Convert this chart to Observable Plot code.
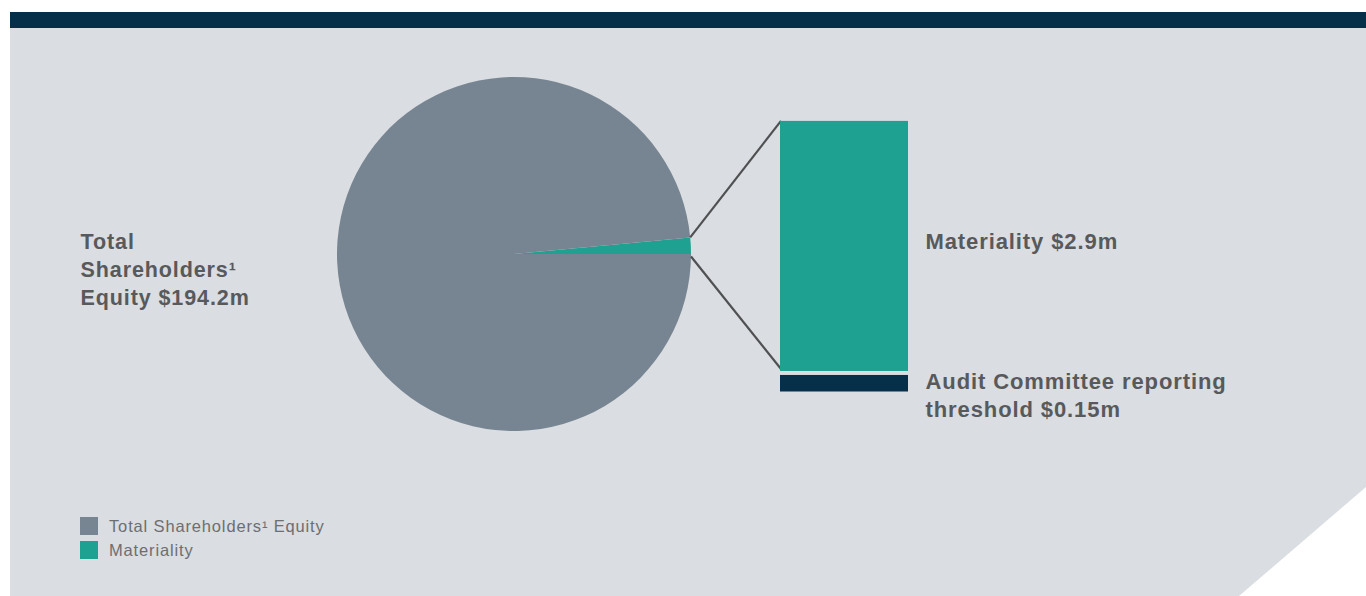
<!DOCTYPE html>
<html>
<head>
<meta charset="utf-8">
<script src="https://cdn.jsdelivr.net/npm/d3@7"></script>
<script src="https://cdn.jsdelivr.net/npm/@observablehq/plot@0.6"></script>
<style>
  html, body { margin: 0; padding: 0; background: #ffffff; }
  #wrap { position: relative; width: 1366px; height: 596px; overflow: hidden; font-family: "Liberation Sans", Arial, sans-serif; }
  #panel { position: absolute; left: 10px; top: 12px; width: 1356px; height: 584px; background: #dadde1;
           clip-path: polygon(0 0, 100% 0, 100% 475px, 1229px 100%, 0 100%); }
  #band { position: absolute; left: 10px; top: 12px; width: 1356px; height: 16px; background: #06304a; }
  #chart { position: absolute; left: 0; top: 0; }
  #chart svg { background: transparent; overflow: visible; }
  #chart g[aria-label="text"] text { letter-spacing: 0.9px; }
  #legend { position: absolute; left: 80px; top: 517px; color: #6d6e71; font-size: 16.5px; letter-spacing: 0.85px; }
  .item { display: flex; align-items: center; height: 18px; margin-bottom: 6px; white-space: nowrap; }
  .sw { width: 18px; height: 18px; margin-right: 11px; flex: none; }
</style>
</head>
<body>
<div id="wrap">
  <div id="panel"></div>
  <div id="band"></div>
  <div id="chart"></div>
  <div id="legend"></div>
</div>
<script>
// ---- data ----
const equityLabel = "Total Shareholders¹ Equity";
const equityValue = 194.2;          // $m
const materialityLabel = "Materiality";
const materialityValue = 2.9;       // $m
const auditLabel = "Audit Committee reporting threshold";
const auditValue = 0.15;            // $m

const pieNames = [materialityLabel, equityLabel];
const pieColors = ["#1ea190", "#778592"];

const barNames = [auditLabel, materialityLabel];
const barValues = [auditValue, materialityValue];
const barTexts = ["Audit Committee reporting\nthreshold $0.15m", "Materiality $2.9m"];
const barColors = ["#06304a", "#1ea190"];

const legendNames = [equityLabel, materialityLabel];
const legendColors = ["#778592", "#1ea190"];

const leftText = "Total\nShareholders¹\nEquity $194.2m";

// ---- derived tables ----
const pieData = [
  {name: pieNames[0], value: materialityValue, color: pieColors[0]},
  {name: pieNames[1], value: equityValue - materialityValue, color: pieColors[1]}
];
const GAP = 0.088; // visual gap between stacked bars (in $m units)
let acc = 0;
const bars = barNames.map((n, i) => {
  const y1 = acc + (i > 0 ? GAP : 0);
  const y2 = y1 + barValues[i];
  acc = y2;
  return {group: "Breakdown", name: n, y1, y2, mid: (y1 + y2) / 2, text: barTexts[i], color: barColors[i]};
});

// ---- layout constants ----
const CX = 514, CY = 254, R = 177;
const theta = 2 * Math.PI * materialityValue / equityValue;
const startAngle = Math.PI / 2 - theta;

function pieMark(index, scales, values, dimensions, context) {
  const g = d3.create("svg:g").attr("aria-label", "pie");
  const arcs = d3.pie().sort(null).value(d => d.value)
    .startAngle(startAngle).endAngle(startAngle + 2 * Math.PI)(pieData);
  const arc = d3.arc().innerRadius(0).outerRadius(R);
  g.append("g").attr("transform", `translate(${CX},${CY})`)
    .selectAll("path").data(arcs).join("path")
    .attr("d", arc).attr("fill", d => d.data.color);
  const pt = a => [CX + R * Math.sin(a), CY - R * Math.cos(a)];
  const m = arcs[0];
  const [ax, ay] = pt(m.startAngle);
  const [bx, by] = pt(m.endAngle);
  const barX = scales.x("Breakdown");
  const mb = bars[1];
  const lines = [
    [ax, ay, barX + 1, scales.y(mb.y2)],
    [bx, by + 2.5, barX + 1, scales.y(mb.y1) - 2]
  ];
  g.append("g").selectAll("line").data(lines).join("line")
    .attr("x1", d => d[0]).attr("y1", d => d[1]).attr("x2", d => d[2]).attr("y2", d => d[3])
    .attr("stroke", "#4f5052").attr("stroke-width", 2.2);
  return g.node();
}

const chart = Plot.plot({
  width: 1366,
  height: 596,
  marginTop: 0, marginRight: 0, marginBottom: 0, marginLeft: 0,
  x: {type: "band", domain: ["Breakdown"], range: [780, 908], padding: 0, axis: null},
  y: {type: "linear", domain: [0, 4.54], range: [391.5, 0], axis: null},
  color: {type: "identity"},
  style: {background: "transparent", fontFamily: "'Liberation Sans', Arial, sans-serif"},
  marks: [
    pieMark,
    Plot.barY(bars.slice(0, 1), {x: "group", y1: "y1", y2: "y2", fill: "color", insetTop: -3.6}),
    Plot.barY(bars.slice(1), {x: "group", y1: "y1", y2: "y2", fill: "color"}),
    Plot.text(bars.slice(1), {x: "group", y: "mid", text: "text", textAnchor: "start", dx: 81, dy: -4,
      fontSize: 22, fontWeight: "bold", fill: "#58595b", lineAnchor: "middle"}),
    Plot.text(bars.slice(0, 1), {x: "group", y: "mid", text: "text", textAnchor: "start", dx: 81, dy: 8.5,
      fontSize: 22, fontWeight: "bold", fill: "#58595b", lineAnchor: "middle", lineHeight: 28 / 22}),
    Plot.text([leftText], {frameAnchor: "top-left", dx: 80, dy: 268, text: d => d, textAnchor: "start",
      fontSize: 21.5, fontWeight: "bold", fill: "#58595b", lineAnchor: "middle", lineHeight: 28 / 21.5})
  ]
});
document.getElementById("chart").appendChild(chart);

const legend = d3.select("#legend");
const items = legend.selectAll("div.item").data(legendNames).join("div").attr("class", "item");
items.append("div").attr("class", "sw").style("background", (d, i) => legendColors[i]);
items.append("span").text(d => d);
</script>
</body>
</html>
